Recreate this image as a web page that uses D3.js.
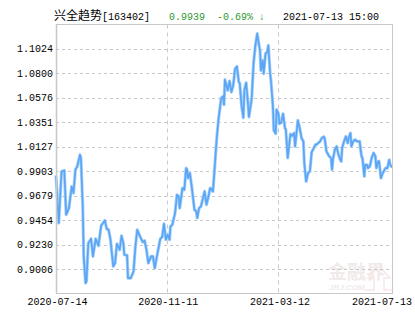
<!DOCTYPE html>
<html>
<head>
<meta charset="utf-8">
<script src="https://cdn.jsdelivr.net/npm/d3@7"></script>
<style>
    body { margin: 0; background: #fff; }
    svg { display: block; }
</style>
</head>
<body>
<script>
// fund name + last quote
var fundName = "兴全趋势";
var fundCode = "[163402]";
var lastNav = "0.9939";
var lastChange = "-0.69% ↓";
var lastTime = "2021-07-13 15:00";

// net value series
var navDates = [
    "2020-07-14","2020-07-17","2020-07-20","2020-07-23","2020-07-25","2020-07-28","2020-07-31","2020-08-02",
    "2020-08-04","2020-08-06","2020-08-09","2020-08-10","2020-08-12","2020-08-13","2020-08-15","2020-08-16",
    "2020-08-18","2020-08-21","2020-08-23","2020-08-26","2020-08-29","2020-09-01","2020-09-05","2020-09-07",
    "2020-09-09","2020-09-11","2020-09-14","2020-09-16","2020-09-18","2020-09-21","2020-09-23","2020-09-25",
    "2020-09-26","2020-09-29","2020-09-30","2020-10-03","2020-10-06","2020-10-08","2020-10-10","2020-10-13",
    "2020-10-16","2020-10-18","2020-10-20","2020-10-22","2020-10-25","2020-10-27","2020-10-29","2020-11-01",
    "2020-11-04","2020-11-06","2020-11-08","2020-11-10","2020-11-12","2020-11-14","2020-11-15","2020-11-17",
    "2020-11-20","2020-11-22","2020-11-24","2020-11-25","2020-11-28","2020-11-30","2020-12-02","2020-12-03",
    "2020-12-04","2020-12-06","2020-12-08","2020-12-11","2020-12-13","2020-12-14","2020-12-16","2020-12-18",
    "2020-12-20","2020-12-22","2020-12-24","2020-12-26","2020-12-28","2020-12-31","2021-01-02","2021-01-04",
    "2021-01-06","2021-01-09","2021-01-11","2021-01-12","2021-01-13","2021-01-16","2021-01-18","2021-01-20",
    "2021-01-22","2021-01-24","2021-01-26","2021-01-28","2021-01-29","2021-01-31","2021-02-02","2021-02-03",
    "2021-02-05","2021-02-07","2021-02-08","2021-02-11","2021-02-13","2021-02-15","2021-02-17","2021-02-19",
    "2021-02-20","2021-02-21","2021-02-23","2021-02-24","2021-02-26","2021-02-28","2021-03-01","2021-03-03",
    "2021-03-04","2021-03-06","2021-03-07","2021-03-09","2021-03-10","2021-03-12","2021-03-13","2021-03-15",
    "2021-03-17","2021-03-19","2021-03-20","2021-03-22","2021-03-25","2021-03-27","2021-03-29","2021-03-30",
    "2021-04-02","2021-04-04","2021-04-06","2021-04-08","2021-04-09","2021-04-11","2021-04-13","2021-04-15",
    "2021-04-17","2021-04-19","2021-04-21","2021-04-22","2021-04-24","2021-04-26","2021-04-28","2021-04-30",
    "2021-05-01","2021-05-03","2021-05-06","2021-05-08","2021-05-09","2021-05-10","2021-05-12","2021-05-14",
    "2021-05-16","2021-05-18","2021-05-19","2021-05-20","2021-05-22","2021-05-24","2021-05-26","2021-05-27",
    "2021-05-29","2021-05-30","2021-06-01","2021-06-03","2021-06-05","2021-06-08","2021-06-09","2021-06-10",
    "2021-06-11","2021-06-13","2021-06-14","2021-06-16","2021-06-17","2021-06-19","2021-06-21","2021-06-23",
    "2021-06-25","2021-06-26","2021-06-28","2021-06-29","2021-07-01","2021-07-03","2021-07-04","2021-07-06",
    "2021-07-08","2021-07-10","2021-07-11","2021-07-13"
];
var navValues = [
    0.9862,0.9428,0.9901,0.9910,0.9504,0.9565,0.9763,0.9703,
    0.9917,0.9947,1.0054,1.0024,0.9580,0.9122,0.8878,0.8892,
    0.9244,0.9284,0.9122,0.9284,0.9220,0.9406,0.9452,0.9373,
    0.9366,0.9275,0.9030,0.9061,0.9238,0.9183,0.9311,0.9244,
    0.9137,0.9131,0.8923,0.8923,0.8984,0.9213,0.9366,0.9305,
    0.9254,0.9266,0.9183,0.9061,0.9122,0.9122,0.9015,0.9153,
    0.9284,0.9299,0.9421,0.9275,0.9321,0.9275,0.9397,0.9412,
    0.9520,0.9687,0.9672,0.9565,0.9749,0.9733,0.9932,0.9917,
    0.9840,0.9886,0.9763,0.9550,0.9534,0.9474,0.9565,0.9580,
    0.9648,0.9718,0.9596,0.9666,0.9749,0.9718,0.9947,1.0192,
    1.0375,1.0574,1.0589,1.0513,1.0742,1.0644,1.0730,1.0629,
    1.0690,1.0843,1.0864,1.0721,1.0712,1.0506,1.0393,1.0644,
    1.0714,1.0522,1.0400,1.0568,1.0889,1.1056,1.1164,1.1056,
    1.1011,1.0827,1.0919,1.0797,1.0980,1.0996,1.1056,1.0797,
    1.0721,1.0492,1.0277,1.0247,1.0467,1.0430,1.0338,1.0350,
    1.0430,1.0299,1.0283,1.0024,1.0244,1.0228,1.0253,1.0130,
    1.0369,1.0299,1.0207,1.0176,0.9978,0.9809,0.9886,0.9901,
    1.0077,1.0111,1.0146,1.0146,1.0161,1.0176,1.0207,1.0219,
    1.0207,1.0084,1.0039,1.0024,0.9917,1.0008,1.0100,1.0130,
    1.0054,1.0008,0.9993,1.0116,1.0176,1.0222,1.0161,1.0207,
    1.0253,1.0130,1.0176,1.0192,1.0176,1.0176,1.0100,1.0039,
    1.0024,0.9855,0.9962,0.9962,0.9932,0.9947,1.0024,1.0070,
    1.0039,0.9932,0.9993,0.9993,0.9840,0.9886,0.9901,0.9932,
    0.9932,1.0008,0.9962,0.9939
];

// axis ticks
var yTicks = [0.9006, 0.9230, 0.9454, 0.9679, 0.9903, 1.0127, 1.0351, 1.0576, 1.0800, 1.1024];
var yTickLabels = ["0.9006", "0.9230", "0.9454", "0.9679", "0.9903", "1.0127", "1.0351", "1.0576", "1.0800", "1.1024"];
var yDomain = [0.8782, 1.1248];
var xTicks = ["2020-07-14", "2020-11-11", "2021-03-12", "2021-07-13"];

function drawChart() {
    var W = 415, H = 330;
    var pl = 56, pr = 392, pt = 24.5, pb = 293.5;
    var monoFont = "'Liberation Mono', 'DejaVu Sans Mono', monospace";
    var green = "#2f9a34";

    var parseDate = d3.timeParse("%Y-%m-%d");
    var data = navDates.map(function (d, i) {
        return {date: parseDate(d), nav: navValues[i]};
    });

    var x = d3.scaleTime()
        .domain([parseDate(xTicks[0]), parseDate(xTicks[xTicks.length - 1])])
        .range([pl, pr]);
    var y = d3.scaleLinear().domain(yDomain).range([pb, pt]);

    var svg = d3.select("body").append("svg")
        .attr("width", W)
        .attr("height", H);

    svg.append("rect").attr("width", W).attr("height", H).attr("fill", "#fff");

    // header line
    var head = svg.append("g");
    head.append("text")
        .attr("x", 54).attr("y", 20)
        .style("font-family", "'Noto Sans CJK SC', sans-serif")
        .style("font-size", "12px")
        .attr("fill", "#000")
        .text(fundName);
    var headParts = [
        {x: 102, t: fundCode, c: "#000"},
        {x: 169, t: lastNav, c: green},
        {x: 217, t: lastChange, c: green},
        {x: 283, t: lastTime, c: "#000"}
    ];
    head.selectAll("text.part")
        .data(headParts)
        .enter().append("text")
        .attr("class", "part")
        .attr("x", function (d) { return d.x; })
        .attr("y", 19.5)
        .style("font-family", monoFont).style("font-size", "10px")
        .attr("fill", function (d) { return d.c; })
        .text(function (d) { return d.t; });

    // horizontal grid
    svg.append("g")
        .selectAll("line")
        .data(yTicks)
        .enter().append("line")
        .attr("x1", pl).attr("x2", pr)
        .attr("y1", function (d) { return Math.round(y(d)) + 0.5; })
        .attr("y2", function (d) { return Math.round(y(d)) + 0.5; })
        .attr("stroke", "#c8c8c8")
        .attr("stroke-dasharray", "3,3");

    // vertical grid (inner dates only)
    svg.append("g")
        .selectAll("line")
        .data(xTicks.slice(1, -1))
        .enter().append("line")
        .attr("x1", function (d) { return Math.round(x(parseDate(d))) + 0.5; })
        .attr("x2", function (d) { return Math.round(x(parseDate(d))) + 0.5; })
        .attr("y1", pt).attr("y2", pb)
        .attr("stroke", "#c8c8c8")
        .attr("stroke-dasharray", "4,4");

    // watermark
    var wm = svg.append("g").attr("opacity", 0.35);
    wm.append("text")
        .attr("x", 328).attr("y", 279)
        .style("font-family", "'Noto Sans CJK SC', sans-serif")
        .style("font-size", "19px").style("font-weight", "bold")
        .attr("fill", "#d9c4c4")
        .text("金融界");
    wm.append("text")
        .attr("x", 329).attr("y", 290)
        .style("font-family", "'Liberation Sans', sans-serif")
        .style("font-size", "8px").style("font-style", "italic").style("font-weight", "bold")
        .attr("fill", "#d9c4c4")
        .text("JRJ.COM");
    wm.append("path")
        .attr("d", "M364,290 L374,290 L374,278 L368,278 L379,266 L390,278 L384,278 L384,290 L392,290")
        .attr("fill", "none")
        .attr("stroke", "#f0b8b8")
        .attr("stroke-width", 1.5);

    // the line
    var line = d3.line()
        .x(function (d) { return x(d.date); })
        .y(function (d) { return y(d.nav); });

    svg.append("path")
        .datum(data)
        .attr("d", line)
        .attr("fill", "none")
        .attr("stroke", "#a9d2fb")
        .attr("stroke-width", 3.2)
        .attr("stroke-linejoin", "round");
    svg.append("path")
        .datum(data)
        .attr("d", line)
        .attr("fill", "none")
        .attr("stroke", "#5aa6f5")
        .attr("stroke-width", 1.7)
        .attr("stroke-linejoin", "round");

    // frame
    svg.append("rect")
        .attr("x", pl + 0.5).attr("y", pt)
        .attr("width", pr - pl).attr("height", pb - pt)
        .attr("fill", "none")
        .attr("stroke", "#c8c8c8");
    svg.append("line")
        .attr("x1", pl + 0.5).attr("x2", pl + 0.5)
        .attr("y1", pt).attr("y2", pb)
        .attr("stroke", "#c8c8c8").attr("stroke-width", 1.5);

    // y labels
    svg.append("g")
        .selectAll("text")
        .data(yTicks)
        .enter().append("text")
        .attr("x", 53)
        .attr("y", function (d) { return y(d) + 3.5; })
        .attr("text-anchor", "end")
        .style("font-family", monoFont).style("font-size", "10px")
        .attr("fill", "#000")
        .text(function (d, i) { return yTickLabels[i]; });

    // x labels
    svg.append("g")
        .selectAll("text")
        .data(xTicks)
        .enter().append("text")
        .attr("x", function (d) {
            var cx = x(parseDate(d)) + 1.5;
            return Math.min(cx, W - 3 - 30);
        })
        .attr("y", 305)
        .attr("text-anchor", "middle")
        .style("font-family", monoFont).style("font-size", "10px")
        .attr("fill", "#000")
        .text(function (d) { return d; });
}

drawChart();
</script>
</body>
</html>
